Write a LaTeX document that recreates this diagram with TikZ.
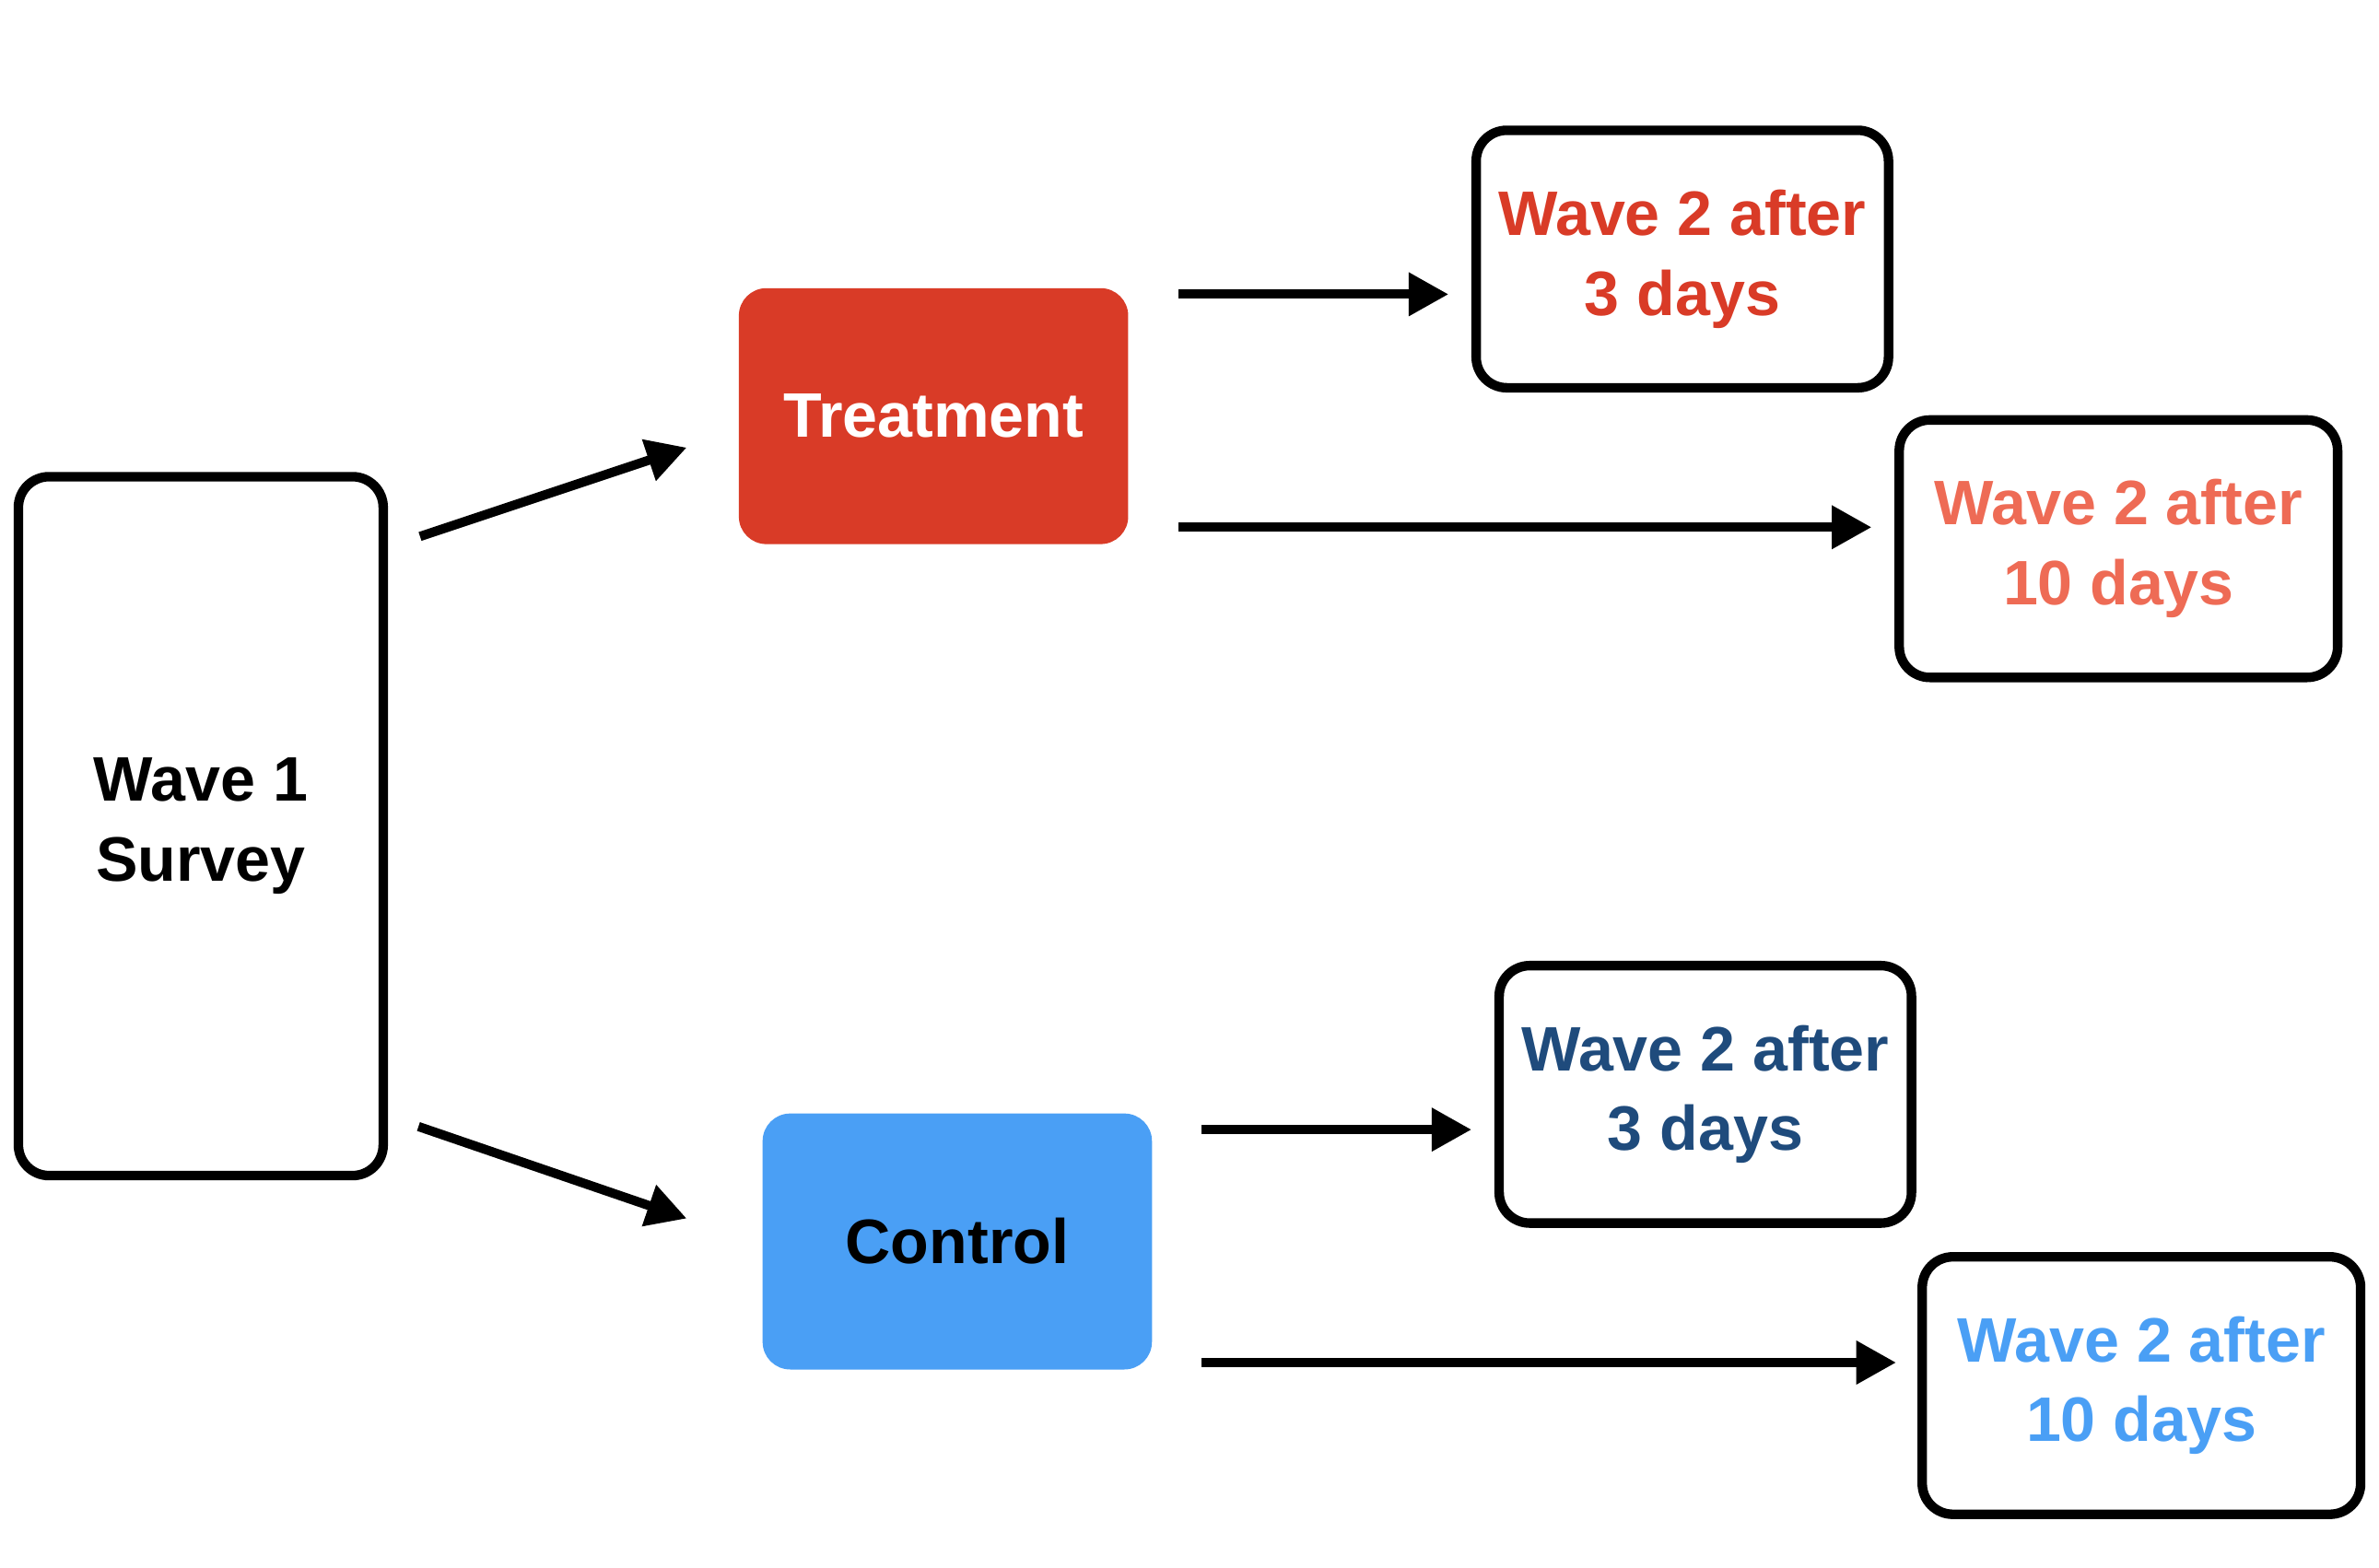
\documentclass[tikz,border=0pt]{standalone}
\usepackage{fontspec}
\setmainfont{Liberation Sans}
\usetikzlibrary{arrows.meta}
\definecolor{tred}{HTML}{D93B27}
\definecolor{tsalmon}{HTML}{EE6B55}
\definecolor{cdark}{HTML}{1F4B7C}
\definecolor{clight}{HTML}{4A9FF5}
\begin{document}
\begin{tikzpicture}[x=1pt,y=-1pt,
  lbl/.style={font=\fontsize{41}{52}\selectfont\bfseries, align=center, inner sep=0pt},
  outbox/.style={lbl, draw=black, line width=6.2pt, rounded corners=20pt, fill=white},
  wavebox/.style={outbox, minimum width=269pt, minimum height=168pt},
  widebox/.style={outbox, minimum width=286pt, minimum height=168pt},
  armbox/.style={lbl, rounded corners=18pt, minimum width=254pt, minimum height=167pt},
  arr/.style={line width=6pt, -{Triangle[length=26pt,width=27pt]}}]
\useasboundingbox (0,0) rectangle (1552,1023);
\fill[white] (0,0) rectangle (1552,1023);

\node[outbox, minimum width=238pt, minimum height=456pt] (w1) at (131,539) {Wave 1\\Survey};
\node[armbox, fill=tred, text=white] (treat) at (609,271.5) {Treatment};
\node[armbox, fill=clight, text=black] (ctrl) at (624.5,810) {Control};

\node[wavebox, text=tred] (t3) at (1097.5,169) {Wave 2 after\\3 days};
\node[widebox, text=tsalmon] (t10) at (1382,358) {Wave 2 after\\10 days};
\node[wavebox, text=cdark] (c3) at (1112.5,714) {Wave 2 after\\3 days};
\node[widebox, text=clight] (c10) at (1397,904) {Wave 2 after\\10 days};

\coordinate (w1a) at (274,350);
\coordinate (treatin) at (448,292);
\coordinate (w1b) at (273,735);
\coordinate (ctrlin) at (448,795);
\coordinate (treatout1) at (769,192);
\coordinate (t3in) at (945,192);
\coordinate (treatout2) at (769,344);
\coordinate (t10in) at (1221,344);
\coordinate (ctrlout1) at (784,737);
\coordinate (c3in) at (960,737);
\coordinate (ctrlout2) at (784,889);
\coordinate (c10in) at (1237,889);

\draw[arr] (w1a) -- (treatin);
\draw[arr] (w1b) -- (ctrlin);
\draw[arr] (treatout1) -- (t3in);
\draw[arr] (treatout2) -- (t10in);
\draw[arr] (ctrlout1) -- (c3in);
\draw[arr] (ctrlout2) -- (c10in);
\end{tikzpicture}
\end{document}
